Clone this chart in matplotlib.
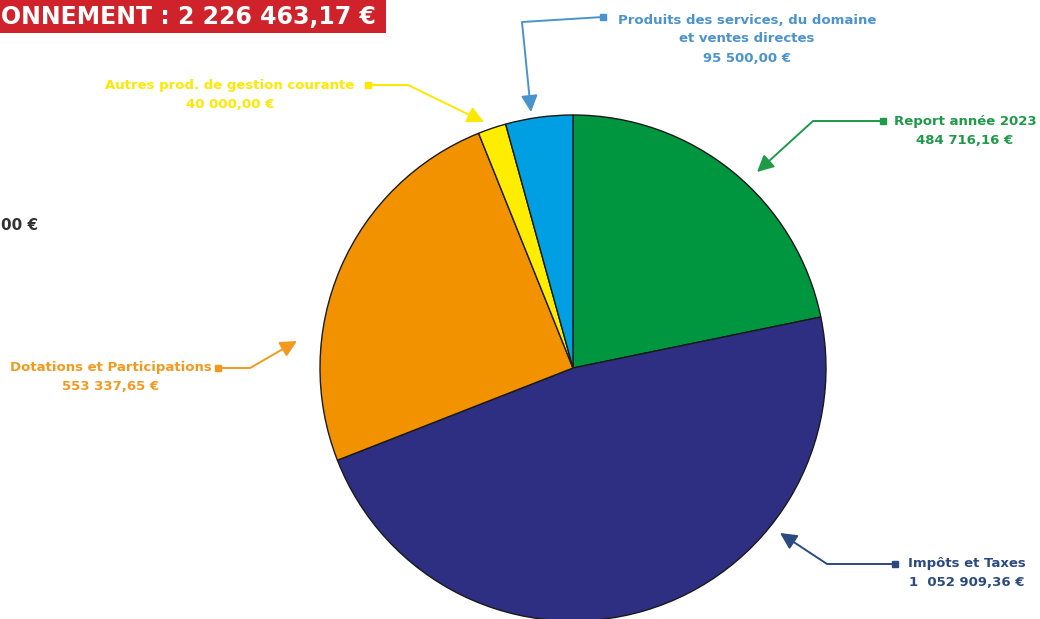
import matplotlib
matplotlib.use("Agg")
import matplotlib.pyplot as plt
from matplotlib.patches import Rectangle

# ---- data ----
categories = ["Report année 2023", "Impôts et Taxes", "Dotations et Participations",
              "Autres prod. de gestion courante",
              "Produits des services, du domaine\net ventes directes"]
values = [484716.16, 1052909.36, 553337.65, 40000.00, 95500.00]
value_labels = ["484 716,16 €", "1  052 909,36 €", "553 337,65 €", "40 000,00 €", "95 500,00 €"]
slice_colors = ["#00963F", "#2E2E82", "#F39200", "#FFED00", "#009FE3"]
text_colors = ["#1E9A48", "#2B4A80", "#F39A1E", "#FFE800", "#4A93CD"]
title_text = "ONNEMENT : 2 226 463,17 €"
side_text = "00 €"

W, H = 1040, 619
fig = plt.figure(figsize=(W / 100, H / 100), dpi=100)
ax = fig.add_axes([0, 0, 1, 1])

def Y(y):
    return H - y

FONT = "DejaVu Sans"

# pie
cx, cy, r = 573, 368, 253
ax.pie(values, colors=slice_colors, startangle=90, counterclock=False,
       center=(cx, Y(cy)), radius=r, frame=True,
       wedgeprops=dict(edgecolor="#1a1a1a", linewidth=1.0))
ax.set_xlim(0, W)
ax.set_ylim(0, H)
ax.axis("off")

# title box
ax.add_patch(Rectangle((0, Y(33)), 386, 33, facecolor="#D0222A", edgecolor="none"))
ax.text(1, Y(17), title_text, ha="left", va="center", color="white",
        fontsize=17, fontweight="bold", family=FONT)
ax.text(1, Y(225), side_text, ha="left", va="center", color="#333333",
        fontsize=11, fontweight="bold", family=FONT)

# annotations: (square pos, elbow pos, arrow tip, text anchor)
ann = [
    ((883, 121), (813, 121), (757, 172), (965, 121)),
    ((895, 564), (827, 564), (780, 533), (967, 564)),
    ((218, 368), (250, 368), (297, 341), (111, 368)),
    ((368, 85), (408, 85), (484, 122), (230, 85)),
    ((603, 17), (522, 22), (531, 112), (747, 20)),
]
for i, (sq, el, tip, tx) in enumerate(ann):
    c = text_colors[i]
    ax.plot([sq[0], el[0]], [Y(sq[1]), Y(el[1])], color=c, lw=1.4, solid_capstyle="butt")
    ax.plot([sq[0]], [Y(sq[1])], marker="s", ms=5, color=c)
    ax.annotate("", xy=(tip[0], Y(tip[1])), xytext=(el[0], Y(el[1])),
                arrowprops=dict(arrowstyle="-|>,head_length=1.0,head_width=0.5",
                                color=c, lw=1.4, shrinkA=0, shrinkB=0))
    lines = categories[i].split("\n") + [value_labels[i]]
    for j, line in enumerate(lines):
        ax.text(tx[0], Y(tx[1] + j * 19), line, ha="center", va="center", color=c,
                fontsize=9.5, fontweight="bold", family=FONT)

fig.savefig("out.png", dpi=100)
